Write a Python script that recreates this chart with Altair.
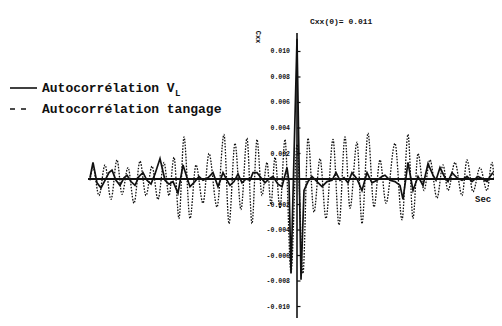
import altair as alt
import pandas as pd

# Lags (arbitrary seconds) and autocorrelation values
lag_tangage = [-20.7, -20.4, -19.8, -19.2, -18.6, -18.0, -17.5, -16.9, -16.3, -15.7,
               -15.1, -14.5, -13.9, -13.3, -12.8, -12.3, -11.8, -11.3, -10.7, -10.1,
               -9.4, -8.8, -8.0, -7.3, -6.8, -6.2, -5.6, -5.0, -4.5, -4.0,
               -3.5, -3.0, -2.6, -2.2, -1.7, -1.2, -0.6, 0.0, 0.6, 1.1,
               1.7, 2.3, 2.9, 3.6, 4.2, 4.8, 5.3, 6.0, 6.5, 7.1,
               7.7, 8.3, 8.9, 9.8, 10.5, 11.1, 11.6, 12.1, 12.7, 13.3,
               14.0, 14.6, 15.1, 15.8, 16.5, 17.0, 17.6, 18.3, 19.0, 19.5, 19.7]
cxx_tangage = [-0.0001, 0.0009, -0.0013, 0.0011, -0.0016, 0.0015, -0.0012, 0.0009, -0.0019, 0.0014,
               -0.0013, 0.0010, -0.0016, 0.0013, -0.0013, 0.0017, -0.0031, 0.0033, -0.0031, 0.0011,
               -0.0019, 0.0020, -0.0022, 0.0035, -0.0035, 0.0028, -0.0024, 0.0032, -0.0035, 0.0031,
               -0.0013, 0.0013, -0.0020, 0.0017, -0.0023, 0.0031, -0.0073, 0.0027, -0.0074, 0.0032,
               -0.0026, 0.0016, -0.0031, 0.0031, -0.0036, 0.0033, -0.0023, 0.0029, -0.0035, 0.0036,
               -0.0022, 0.0015, -0.0019, 0.0028, -0.0032, 0.0035, -0.0031, 0.0020, -0.0009, 0.0015,
               -0.0015, 0.0011, -0.0009, 0.0013, -0.0013, 0.0015, -0.0010, 0.0009, -0.0009, 0.0013, 0.0001]

lag_vl = [-20.7, -20.4, -20.0, -19.6, -19.2, -18.8, -18.5, -18.1, -17.7, -17.3,
          -17.0, -16.6, -16.2, -15.8, -15.4, -15.0, -14.6, -14.2, -13.7, -13.2,
          -12.8, -12.4, -11.9, -11.4, -11.0, -10.7, -10.2, -9.8, -9.4, -8.9,
          -8.4, -7.9, -7.4, -7.0, -6.7, -6.3, -5.9, -5.5, -5.1, -4.7,
          -4.4, -4.0, -3.6, -3.2, -2.8, -2.4, -1.9, -1.5, -1.0, -0.8,
          -0.6, 0.0, 0.4, 0.7, 1.1, 1.5, 2.0, 2.5, 3.0, 3.5,
          3.9, 4.3, 4.7, 5.1, 5.5, 6.0, 6.5, 7.0, 7.5, 8.0,
          8.5, 8.8, 9.3, 9.8, 10.3, 10.6, 11.1, 11.6, 12.1, 12.6,
          13.1, 13.6, 13.9, 14.3, 14.8, 15.1, 15.5, 16.0, 16.5, 17.0,
          17.5, 18.1, 18.6, 19.0, 19.3, 19.6]
cxx_vl = [0.0001, 0.0013, -0.0003, -0.0007, -0.0001, 0.0005, 0.0007, -0.0001, -0.0005, 0.0001,
          0.0003, -0.0002, -0.0005, 0.0002, 0.0005, -0.0001, -0.0004, 0.0004, 0.0016, -0.0001,
          -0.0004, -0.0002, -0.0011, 0.0011, 0.0001, -0.0006, -0.0002, 0.0002, -0.0001, 0.0001,
          0.0005, -0.0006, 0.0005, -0.0001, -0.0005, -0.0002, 0.0004, -0.0003, 0.0, -0.0001,
          0.0005, 0.0005, 0.0001, -0.0003, 0.0, 0.0002, -0.0004, -0.0006, 0.0009, -0.0002,
          -0.0074, 0.011, -0.0079, -0.0009, -0.0002, 0.0002, -0.0002, -0.0006, -0.0002, -0.0001,
          0.0005, -0.0001, 0.0001, -0.0003, 0.0005, 0.0, -0.0009, 0.0005, -0.0003, -0.0001,
          0.0002, 0.0003, -0.0001, -0.0002, -0.0005, -0.0016, 0.0013, -0.0009, 0.0002, -0.0005,
          0.0012, 0.0003, -0.0001, 0.0009, 0.0001, -0.0002, 0.0005, 0.0001, -0.0001, 0.0002,
          -0.0002, 0.0002, 0.0, -0.0002, 0.0002, 0.0005]

tick_values = [0.010, 0.008, 0.006, 0.004, 0.002, -0.002, -0.004, -0.006, -0.008, -0.010]
tick_labels = ["0.010", "0.008", "0.006", "0.004", "0.002",
               "-0.002", "-0.004", "-0.006", "-0.008", "-0.010"]

X_MIN, X_MAX = -20.7, 19.7
Y_MIN, Y_MAX = -0.0109, 0.01145
INK = "#111111"
MONO = "Liberation Mono"

xs = alt.Scale(domain=[X_MIN, X_MAX], nice=False, zero=False)
ys = alt.Scale(domain=[Y_MIN, Y_MAX], nice=False, zero=False)

df_t = pd.DataFrame({"lag": lag_tangage, "cxx": cxx_tangage})
df_v = pd.DataFrame({"lag": lag_vl, "cxx": cxx_vl})
df_ticks = pd.DataFrame({"v": tick_values, "label": tick_labels})

tang = alt.Chart(df_t).mark_line(
    color=INK, strokeWidth=1.3, strokeDash=[1.6, 1.4], interpolate="monotone"
).encode(
    x=alt.X("lag:Q", scale=xs, axis=None),
    y=alt.Y("cxx:Q", scale=ys, axis=None),
)

vl = alt.Chart(df_v).mark_line(color=INK, strokeWidth=1.7).encode(
    x=alt.X("lag:Q", scale=xs, axis=None),
    y=alt.Y("cxx:Q", scale=ys, axis=None),
)

base_one = alt.Chart(pd.DataFrame({"a": [0]}))

x_axis = base_one.mark_rule(color=INK, strokeWidth=1.8).encode(
    x=alt.X(datum=X_MIN - 0.2, type="quantitative", scale=xs, axis=None),
    x2=alt.X2(datum=X_MAX),
    y=alt.Y(datum=0, type="quantitative", scale=ys, axis=None),
)

y_axis = base_one.mark_rule(color=INK, strokeWidth=1.6).encode(
    x=alt.X(datum=0, type="quantitative", scale=xs, axis=None),
    y=alt.Y(datum=Y_MIN, type="quantitative", scale=ys, axis=None),
    y2=alt.Y2(datum=Y_MAX),
)

ticks = alt.Chart(df_ticks).mark_rule(color=INK, strokeWidth=1.2).encode(
    x=alt.X(datum=0, type="quantitative", scale=xs, axis=None),
    x2=alt.X2(datum=0.35),
    y=alt.Y("v:Q", scale=ys, axis=None),
)

tick_text = alt.Chart(df_ticks).mark_text(
    align="right", baseline="middle", dx=-7, font=MONO, fontSize=6.5,
    fontWeight="bold", color=INK
).encode(
    x=alt.X(datum=0, type="quantitative", scale=xs, axis=None),
    y=alt.Y("v:Q", scale=ys, axis=None),
    text="label:N",
)

def label(txt, x, y, size, align="left", angle=0, weight="bold"):
    return base_one.mark_text(
        text=txt, align=align, baseline="middle", font=MONO, fontSize=size,
        fontWeight=weight, color=INK, angle=angle
    ).encode(x=alt.value(x), y=alt.value(y))

title = label("Cxx(0)= 0.011", 220, -11, 8)
ylab = label("Cxx", 168, 4, 7, align="center", angle=90)
sec = label("Sec", 385, 166, 9)

leg1_line = base_one.mark_rule(color=INK, strokeWidth=1.6).encode(
    x=alt.value(-80), x2=alt.value(-53), y=alt.value(55))
leg2_line = base_one.mark_rule(color=INK, strokeWidth=1.4, strokeDash=[5, 6]).encode(
    x=alt.value(-80), x2=alt.value(-63), y=alt.value(76))
leg1_text = label("Autocorrélation V", -48, 55, 13)
leg1_sub = label("L", 85, 60, 9)
leg2_text = label("Autocorrélation tangage", -48, 76, 13)

chart = alt.layer(
    tang, vl, x_axis, y_axis, ticks, tick_text, title, ylab, sec,
    leg1_line, leg2_line, leg1_text, leg1_sub, leg2_text
).properties(
    width=404, height=285,
    autosize=alt.AutoSizeParams(type="none"),
    padding={"left": 82, "top": 25, "right": 0, "bottom": 0},
    background="white",
).configure_view(stroke=None)

chart.save("out.html", embed_options={"renderer": "svg", "actions": False})
